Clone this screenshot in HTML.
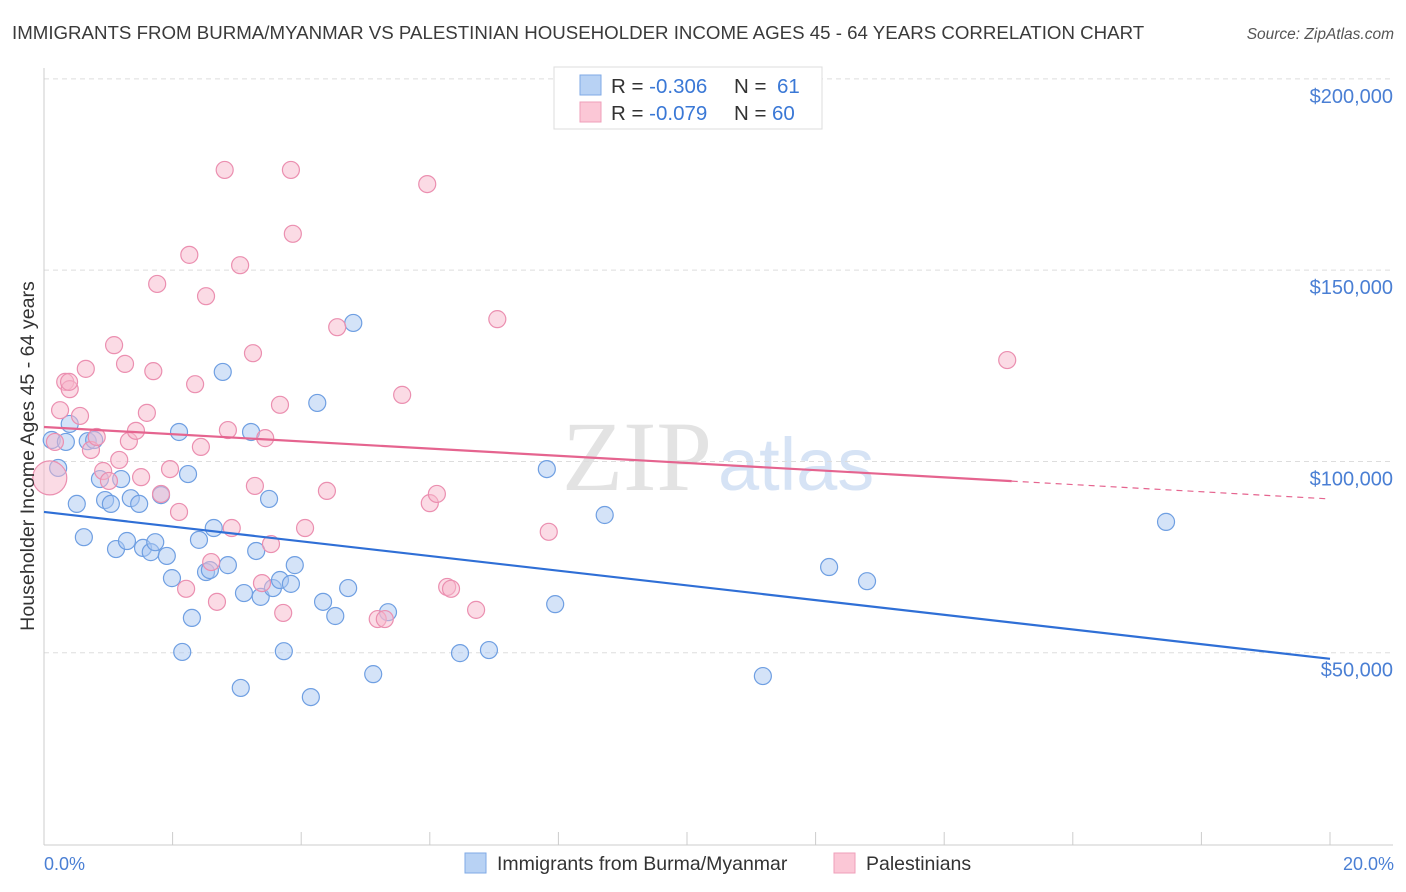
<!DOCTYPE html>
<html><head><meta charset="utf-8"><style>
body{margin:0;background:#fff;font-family:"Liberation Sans",sans-serif;}
svg{display:block}
</style></head><body>
<svg id="chart" width="1406" height="892">
<text x="12" y="39" font-size="18.7" fill="#3a3a3a">IMMIGRANTS FROM BURMA/MYANMAR VS PALESTINIAN HOUSEHOLDER INCOME AGES 45 - 64 YEARS CORRELATION CHART</text>
<text x="1394" y="39" font-size="15.5" fill="#555" font-style="italic" text-anchor="end">Source: ZipAtlas.com</text>
<g><text x="712" y="490" font-size="100" fill="#e3e3e3" text-anchor="end" font-family="Liberation Serif,serif">ZIP</text><text x="718" y="490" font-size="74" fill="#d6e3f5">atlas</text></g>
<g id="grid"></g><g id="axes"></g><g id="marks"></g>
<text transform="translate(34,456) rotate(-90)" font-size="19.6" fill="#333" text-anchor="middle">Householder Income Ages 45 - 64 years</text>
<text x="44" y="870" font-size="18" fill="#4a7fd4">0.0%</text>
<text x="1394" y="870" font-size="18" fill="#4a7fd4" text-anchor="end">20.0%</text>
<g>
<rect x="554" y="67" width="268" height="62" fill="#fff" stroke="#ddd"/>
<rect x="580" y="75" width="21" height="20" fill="#b8d2f4" stroke="#7faae6"/>
<rect x="580" y="102" width="21" height="20" fill="#fbc7d6" stroke="#ef9fba"/>
<text x="611" y="93" font-size="20.5" fill="#333">R = <tspan fill="#3a78d6">-0.306</tspan><tspan x="734">N = </tspan><tspan x="777" fill="#3a78d6">61</tspan></text>
<text x="611" y="120" font-size="20.5" fill="#333">R = <tspan fill="#3a78d6">-0.079</tspan><tspan x="734">N = </tspan><tspan x="772" fill="#3a78d6">60</tspan></text>
</g>
<g>
<rect x="465" y="853" width="21" height="20" fill="#b8d2f4" stroke="#7faae6"/>
<text x="497" y="870" font-size="19.5" fill="#333">Immigrants from Burma/Myanmar</text>
<rect x="834" y="853" width="21" height="20" fill="#fbc7d6" stroke="#ef9fba"/>
<text x="866" y="870" font-size="19.5" fill="#333">Palestinians</text>
</g>
</svg>
<script>
const yTicks=[50000,100000,150000,200000];
const yTickLabels=["$50,000","$100,000","$150,000","$200,000"];
const blueX=[0.12,0.22,0.34,0.40,0.51,0.62,0.68,0.78,0.87,0.95,1.04,1.12,1.20,1.29,1.35,1.48,1.54,1.66,1.73,1.82,1.91,1.99,2.10,2.15,2.24,2.30,2.41,2.52,2.58,2.64,2.78,2.86,3.06,3.11,3.22,3.30,3.37,3.50,3.56,3.67,3.73,3.84,3.90,4.15,4.25,4.34,4.53,4.73,4.81,5.12,5.35,6.47,6.92,7.82,7.95,8.72,11.18,12.21,12.80,17.45];
const blueY=[105.6,98.3,105.1,109.8,88.9,80.2,105.3,105.6,95.4,89.9,88.9,77.1,95.4,79.2,90.4,88.9,77.4,76.3,78.9,91.2,75.3,69.5,107.7,50.2,96.7,59.1,79.5,71.1,71.6,82.6,123.4,72.9,40.8,65.6,107.7,76.6,64.6,90.2,66.9,69.0,50.4,68.0,72.9,38.4,115.3,63.3,59.6,66.9,136.2,44.4,60.6,49.9,50.7,98.0,62.7,86.0,43.9,72.4,68.7,84.2];
const pinkX=[0.09,0.17,0.25,0.33,0.40,0.56,0.65,0.73,0.82,0.92,1.01,1.09,1.17,1.26,1.32,1.43,1.51,1.60,1.70,1.76,1.82,1.96,2.10,2.21,2.26,2.35,2.44,2.52,2.60,2.69,2.81,2.86,2.92,3.05,3.25,3.28,3.39,3.44,3.53,3.67,3.72,3.84,3.87,4.06,4.40,4.56,5.19,5.30,5.57,5.96,6.00,6.11,6.27,6.33,6.72,7.05,7.85,14.98,0.39];
const pinkY=[95.7,105.1,113.4,120.8,118.9,111.9,124.2,103.0,106.4,97.5,94.9,130.4,100.4,125.5,105.3,108.0,95.9,112.7,123.6,146.4,91.5,98.0,86.8,66.7,154.0,120.2,103.8,143.2,73.7,63.3,176.2,108.2,82.6,151.3,128.3,93.6,68.2,106.1,78.4,114.8,60.4,176.2,159.5,82.6,92.3,135.1,58.8,58.8,117.4,172.5,89.1,91.5,67.2,66.7,61.2,137.2,81.6,126.5,120.8];
const blueTrend=[86.8,48.4]; // value (thousands) at 0% and 20%
const pinkTrend=[109.0,90.2];
const pinkSolidEnd=15.05;
const NS="http://www.w3.org/2000/svg";
const X=p=>44+p*64.3, Y=v=>844-v*1000/261.4;
function mk(t,a,parent){const e=document.createElementNS(NS,t);for(const k in a)e.setAttribute(k,a[k]);parent.appendChild(e);return e;}
const grid=document.getElementById('grid'),axes=document.getElementById('axes'),marks=document.getElementById('marks');
yTicks.forEach((v,i)=>{
 const l=mk('line',{x1:44,x2:1393,y1:Y(v/1000),y2:Y(v/1000),stroke:'#ddd','stroke-dasharray':'5,4'},grid);
 
 
 const t=mk('text',{x:1393,y:Y(v/1000)+24,'font-size':20,fill:'#4a7fd4','text-anchor':'end'},axes);
 t.textContent=yTickLabels[i];
 
 
});
mk('line',{x1:44,x2:44,y1:68,y2:845,stroke:'#ccc'},axes);
mk('line',{x1:44,x2:1393,y1:845,y2:845,stroke:'#ccc'},axes);
for(let i=0;i<=10;i++){const tk=mk('line',{x1:X(i*2),x2:X(i*2),y1:832,y2:845,stroke:'#ccc'},axes);
 
 }
function dots(xs,ys,fill,stroke,name){xs.forEach((x,i)=>{
 const c=mk('circle',{cx:X(x),cy:Y(ys[i]),r:(name==='pink-point'&&i===0)?17:8.5,fill:fill,'fill-opacity':0.5,stroke:stroke,'stroke-width':1.2},marks);
 
 });}
dots(blueX,blueY,'#a9c8f2','#6f9fe2','blue-point');
dots(pinkX,pinkY,'#f7b7cc','#eb8fb0','pink-point');
const bl=mk('line',{x1:X(0),y1:Y(blueTrend[0]),x2:X(20),y2:Y(blueTrend[1]),stroke:'#2f6fd6','stroke-width':2.2},marks);


const pe=pinkTrend[0]+(pinkTrend[1]-pinkTrend[0])*pinkSolidEnd/20;
const pl=mk('line',{x1:X(0),y1:Y(pinkTrend[0]),x2:X(pinkSolidEnd),y2:Y(pe),stroke:'#e5648f','stroke-width':2.2},marks);


const pd=mk('line',{x1:X(pinkSolidEnd),y1:Y(pe),x2:X(20),y2:Y(pinkTrend[1]),stroke:'#e5648f','stroke-width':1.2,'stroke-dasharray':'6,5'},marks);


</script>
</body></html>
